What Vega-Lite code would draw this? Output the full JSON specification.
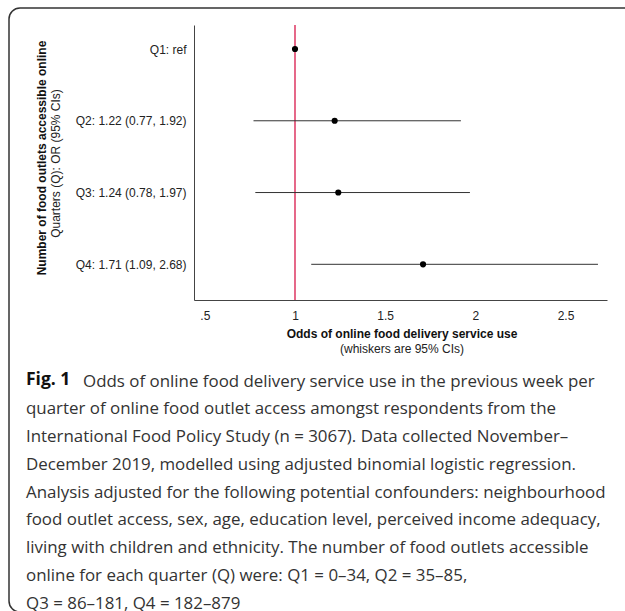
{
  "$schema": "https://vega.github.io/schema/vega-lite/v6.json",
  "autosize": "none",
  "width": 640,
  "height": 604,
  "padding": {"left": 9, "top": 8, "right": -24, "bottom": -1},
  "background": "white",
  "config": {
    "view": {"stroke": "#333333", "strokeWidth": 1.5, "cornerRadius": 11, "fill": "white"}
  },
  "title": {
    "text": "Fig. 1",
    "subtitle": [
      "\u200b\u00a0\u00a0\u00a0\u00a0\u00a0\u00a0\u00a0\u00a0\u00a0\u00a0\u00a0\u00a0\u00a0Odds of online food delivery service use in the previous week per",
      "quarter of online food outlet access amongst respondents from the",
      "International Food Policy Study (n = 3067). Data collected November–",
      "December 2019, modelled using adjusted binomial logistic regression.",
      "Analysis adjusted for the following potential confounders: neighbourhood",
      "food outlet access, sex, age, education level, perceived income adequacy,",
      "living with children and ethnicity. The number of food outlets accessible",
      "online for each quarter (Q) were: Q1 = 0–34, Q2 = 35–85,",
      "Q3 = 86–181, Q4 = 182–879"
    ],
    "orient": "bottom",
    "anchor": "start",
    "frame": "group",
    "offset": -241,
    "dx": 17,
    "font": "Open Sans",
    "fontSize": 17.5,
    "fontWeight": "bold",
    "color": "#111111",
    "lineHeight": 27.75,
    "subtitleFont": "Open Sans",
    "subtitleFontSize": 16.9,
    "subtitleFontWeight": "normal",
    "subtitleColor": "#333333",
    "subtitleLineHeight": 27.75,
    "subtitlePadding": -15
  },
  "data": {
    "values": [
      {"quarter": "Q1", "label": "Q1: ref", "or": 1, "lo": null, "hi": null},
      {"quarter": "Q2", "label": "Q2: 1.22 (0.77, 1.92)", "or": 1.22, "lo": 0.77, "hi": 1.92},
      {"quarter": "Q3", "label": "Q3: 1.24 (0.78, 1.97)", "or": 1.24, "lo": 0.78, "hi": 1.97},
      {"quarter": "Q4", "label": "Q4: 1.71 (1.09, 2.68)", "or": 1.71, "lo": 1.09, "hi": 2.68}
    ]
  },
  "layer": [
    {
      "data": {"values": [{"ref_or": 1}]},
      "mark": {"type": "rule", "color": "#d8174a", "strokeWidth": 1.3},
      "encoding": {
        "x": {
          "field": "ref_or", "type": "quantitative",
          "scale": {"domain": [0.44, 2.73], "range": [185, 598], "nice": false, "zero": false},
          "axis": {
            "orient": "bottom", "offset": -312, "domain": false, "ticks": false, "labels": false, "grid": false,
            "title": "(whiskers are 95% CIs)", "titleFont": "Liberation Sans", "titleFontSize": 12,
            "titleFontWeight": "normal", "titleColor": "#222222", "titleX": 392.5, "titleY": 48, "titleBaseline": "middle"
          }
        },
        "y": {
          "datum": 0.665, "type": "quantitative",
          "scale": {"domain": [0.665, 4.5], "range": [17, 292], "nice": false, "zero": false},
          "axis": {
            "orient": "left", "offset": -185, "domain": true, "domainColor": "#444444", "domainWidth": 1,
            "ticks": false, "labels": false, "grid": false,
            "title": "Quarters (Q): OR (95% CIs)", "titleFont": "Liberation Sans", "titleFontSize": 12,
            "titleFontWeight": "normal", "titleColor": "#222222", "titleX": -139, "titleY": 155,
            "titleBaseline": "middle", "titleAngle": 270
          }
        },
        "y2": {"datum": 4.5}
      }
    },
    {
      "layer": [
        {
          "mark": {"type": "rule", "color": "#333333", "strokeWidth": 1},
          "encoding": {
            "x": {
              "field": "lo", "type": "quantitative",
              "scale": {"domain": [0.44, 2.73], "range": [185, 598], "nice": false, "zero": false},
              "axis": {
                "orient": "bottom", "offset": -312, "values": [0.5, 1, 1.5, 2, 2.5], "format": ".2~f",
                "labelExpr": "datum.value < 1 ? slice(datum.label, 1) : datum.label",
                "domain": true, "domainColor": "#444444", "domainWidth": 1, "ticks": false, "grid": false,
                "labelFont": "Liberation Sans", "labelFontSize": 12, "labelColor": "#222222", "labelPadding": 10,
                "labelFlush": false, "labelOverlap": false,
                "title": "Odds of online food delivery service use", "titleFont": "Liberation Sans",
                "titleFontSize": 12, "titleFontWeight": "bold", "titleColor": "#111111",
                "titleX": 392.5, "titleY": 33, "titleBaseline": "middle"
              }
            },
            "x2": {"field": "hi"},
            "y": {
              "field": "label", "type": "ordinal", "sort": "ascending",
              "scale": {"type": "point", "range": [41, 256.3], "padding": 0},
              "axis": {
                "orient": "left", "offset": -185, "domain": false, "ticks": false, "grid": false,
                "labelFont": "Liberation Sans", "labelFontSize": 12, "labelColor": "#222222", "labelPadding": 8,
                "labelAlign": "right", "labelBaseline": "middle",
                "title": "Number of food outlets accessible online", "titleFont": "Liberation Sans",
                "titleFontSize": 12, "titleFontWeight": "bold", "titleColor": "#111111",
                "titleX": -153, "titleY": 149.5, "titleBaseline": "middle", "titleAngle": 270
              }
            }
          }
        },
        {
          "mark": {"type": "point", "filled": true, "color": "#000000", "size": 38, "opacity": 1},
          "encoding": {
            "x": {"field": "or", "type": "quantitative"},
            "y": {"field": "label", "type": "ordinal", "sort": "ascending"}
          }
        }
      ]
    }
  ],
  "resolve": {
    "scale": {"x": "independent", "y": "independent"},
    "axis": {"x": "independent", "y": "independent"}
  }
}
